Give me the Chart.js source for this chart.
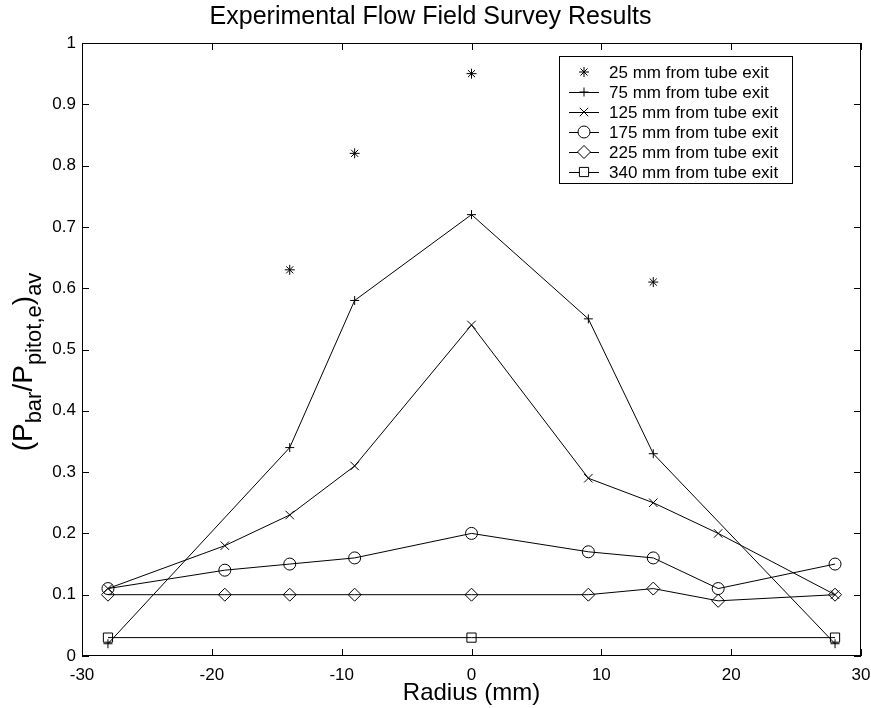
<!DOCTYPE html>
<html>
<head>
<meta charset="utf-8">
<script src="https://cdn.jsdelivr.net/npm/chart.js@4.4.0/dist/chart.umd.min.js"></script>
<style>
  html, body { margin: 0; padding: 0; background: #fff; }
  #wrap { width: 871px; height: 708px; }
</style>
</head>
<body>
<div id="wrap"><canvas id="surveyChart" width="871" height="708"></canvas></div>
<script>
// values
const seriesLabels = ['25 mm from tube exit', '75 mm from tube exit', '125 mm from tube exit',
                      '175 mm from tube exit', '225 mm from tube exit', '340 mm from tube exit'];
const radius25 = [-14, -9, 0, 14];
const ratio25 = [0.63, 0.82, 0.95, 0.61];
const radius75 = [-28, -14, -9, 0, 9, 14, 28];
const ratio75 = [0.02, 0.34, 0.58, 0.72, 0.55, 0.33, 0.02];
const radiusFull = [-28, -19, -14, -9, 0, 9, 14, 19, 28];
const ratio125 = [0.11, 0.18, 0.23, 0.31, 0.54, 0.29, 0.25, 0.20, 0.10];
const ratio175 = [0.11, 0.14, 0.15, 0.16, 0.20, 0.17, 0.16, 0.11, 0.15];
const ratio225 = [0.10, 0.10, 0.10, 0.10, 0.10, 0.10, 0.11, 0.09, 0.10];
const radius340 = [-28, 0, 28];
const ratio340 = [0.03, 0.03, 0.03];
const xTicks = [-30, -20, -10, 0, 10, 20, 30];
const yTicks = [0, 0.1, 0.2, 0.3, 0.4, 0.5, 0.6, 0.7, 0.8, 0.9, 1];

const FONT = "'Liberation Sans', Arial, Helvetica, sans-serif";

function pts(xs, ys) {
    return xs.map((x, i) => ({ x: x, y: ys[i] }));
}

function makeSet(label, xs, ys, style, radius, showLine) {
    return {
        label: label,
        data: pts(xs, ys),
        showLine: showLine,
        borderColor: '#000',
        borderWidth: 1,
        backgroundColor: 'rgba(0,0,0,0)',
        pointStyle: style,
        pointRadius: radius,
        pointHoverRadius: radius,
        pointBorderColor: '#000',
        pointBackgroundColor: 'rgba(0,0,0,0)',
        pointBorderWidth: 1,
        tension: 0,
    };
}

// box, inward ticks, y title with subscripts, legend
const frameAndText = {
    id: 'frameAndText',
    afterDraw(chart) {
        const ctx = chart.ctx;
        const a = chart.chartArea;
        const xs = chart.scales.x, ys = chart.scales.y;
        ctx.save();
        ctx.strokeStyle = '#000';
        ctx.lineWidth = 1;
        ctx.strokeRect(a.left + 0.5, a.top + 0.5, a.right - a.left - 1, a.bottom - a.top - 1);
        const tl = 7;
        ctx.beginPath();
        xTicks.forEach(v => {
            const px = Math.round(xs.getPixelForValue(v)) + 0.5;
            ctx.moveTo(px, a.bottom); ctx.lineTo(px, a.bottom - tl);
            ctx.moveTo(px, a.top); ctx.lineTo(px, a.top + tl);
        });
        yTicks.forEach(v => {
            const py = Math.round(ys.getPixelForValue(v)) + 0.5;
            ctx.moveTo(a.left, py); ctx.lineTo(a.left + tl, py);
            ctx.moveTo(a.right, py); ctx.lineTo(a.right - tl, py);
        });
        ctx.stroke();

        // y axis title: (P_bar/P_pitot,e)_av
        const parts = [
            ['(P', 28, 0], ['bar', 22, 9], ['/P', 28, 0], ['pitot,e', 22, 9], [')', 28, 0], ['av', 22, 9]
        ];
        let total = 0;
        parts.forEach(p => { ctx.font = p[1] + 'px ' + FONT; total += ctx.measureText(p[0]).width; });
        ctx.translate(32, 362);
        ctx.rotate(-Math.PI / 2);
        ctx.fillStyle = '#000';
        ctx.textBaseline = 'alphabetic';
        ctx.textAlign = 'left';
        let cx = -total / 2;
        parts.forEach(p => {
            ctx.font = p[1] + 'px ' + FONT;
            ctx.fillText(p[0], cx, p[2]);
            cx += ctx.measureText(p[0]).width;
        });
        ctx.restore();

        // legend box
        ctx.save();
        const lx = 559, ly = 56, lw = 233, lh = 127;
        ctx.fillStyle = '#fff';
        ctx.fillRect(lx, ly, lw, lh);
        ctx.strokeStyle = '#000';
        ctx.lineWidth = 1;
        ctx.strokeRect(lx + 0.5, ly + 0.5, lw, lh);
        ctx.textBaseline = 'middle';
        chart.data.datasets.forEach((ds, i) => {
            const y = ly + 16 + i * 20;
            if (ds.showLine) {
                ctx.beginPath();
                ctx.moveTo(lx + 10, y + 0.5);
                ctx.lineTo(lx + 40, y + 0.5);
                ctx.stroke();
            }
            ctx.fillStyle = '#fff';
            Chart.helpers.drawPoint(ctx, {
                pointStyle: ds.pointStyle,
                radius: ds.pointRadius,
                borderWidth: 1,
                rotation: 0
            }, lx + 25, y);
            ctx.fillStyle = '#000';
            ctx.font = '17px ' + FONT;
            ctx.fillText(ds.label, lx + 50, y + 1);
        });
        ctx.restore();
    }
};

new Chart(document.getElementById('surveyChart'), {
    type: 'scatter',
    data: {
        datasets: [
            makeSet(seriesLabels[0], radius25, ratio25, 'star', 5, false),
            makeSet(seriesLabels[1], radius75, ratio75, 'cross', 4.5, true),
            makeSet(seriesLabels[2], radiusFull, ratio125, 'crossRot', 6, true),
            makeSet(seriesLabels[3], radiusFull, ratio175, 'circle', 6, true),
            makeSet(seriesLabels[4], radiusFull, ratio225, 'rectRot', 6.5, true),
            makeSet(seriesLabels[5], radius340, ratio340, 'rect', 6.5, true),
        ]
    },
    options: {
        responsive: false,
        animation: false,
        events: [],
        layout: { padding: { top: 0, right: 10, left: 0, bottom: 0 } },
        plugins: {
            legend: { display: false },
            tooltip: { enabled: false },
            title: {
                display: true,
                text: 'Experimental Flow Field Survey Results',
                color: '#000',
                font: { family: FONT, size: 25, weight: 'normal' },
                padding: { top: 2, bottom: 11 }
            }
        },
        scales: {
            x: {
                type: 'linear',
                min: -30, max: 30,
                afterBuildTicks: s => { s.ticks = xTicks.map(v => ({ value: v })); },
                afterFit: s => { s.height = 52; s.paddingLeft = 0; s.paddingRight = 0; },
                grid: { display: false, drawTicks: false },
                border: { display: false },
                ticks: { color: '#000', padding: 9, maxRotation: 0, font: { family: FONT, size: 17 } },
                title: {
                    display: true,
                    text: 'Radius (mm)',
                    color: '#000',
                    padding: { top: 0, bottom: 0 },
                    font: { family: FONT, size: 24 }
                }
            },
            y: {
                min: 0, max: 1,
                afterBuildTicks: s => { s.ticks = yTicks.map(v => ({ value: v })); },
                afterFit: s => { s.width = 82; s.paddingTop = 0; s.paddingBottom = 0; },
                grid: { display: false, drawTicks: false },
                border: { display: false },
                ticks: {
                    color: '#000', padding: 6,
                    font: { family: FONT, size: 17 },
                    callback: v => (v === 0 || v === 1) ? String(v) : v.toFixed(1)
                }
            }
        }
    },
    plugins: [frameAndText]
});
</script>
</body>
</html>
